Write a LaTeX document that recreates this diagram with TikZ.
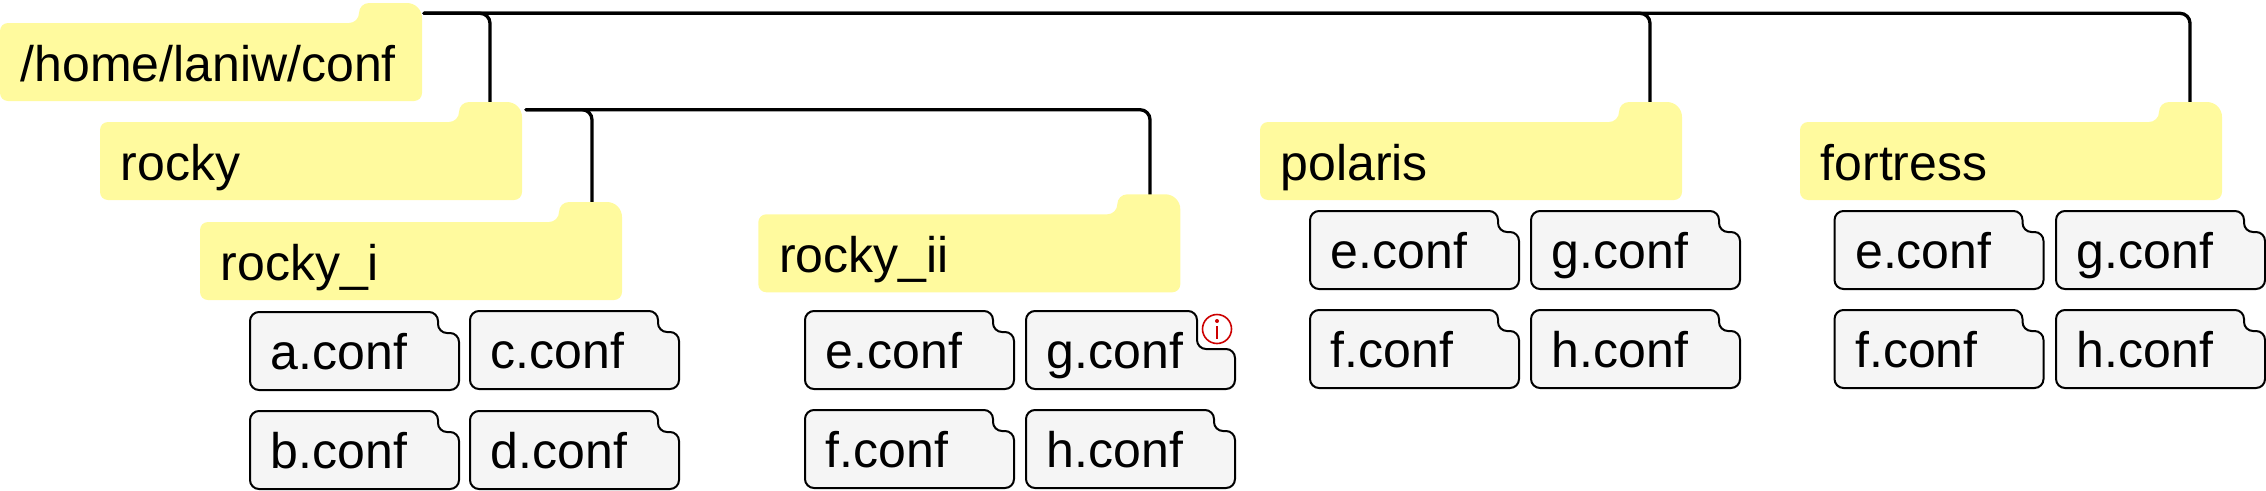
\documentclass[tikz,border=0pt]{standalone}
\usepackage{fontspec}
\setmainfont{Liberation Sans}
\usepackage{xcolor}
\usetikzlibrary{calc,positioning}
\definecolor{folderyellow}{HTML}{FFFA9E}
\definecolor{filegray}{HTML}{F5F5F5}
\definecolor{infored}{HTML}{CC0000}
\tikzset{
	label text/.style={inner sep=0pt, anchor=base west, font=\fontsize{50}{60}\selectfont},
	folder fill/.style={fill=folderyellow},
	file fill/.style={fill=filegray, draw=black, line width=2pt, rounded corners=9},
	link/.style={line width=3.3pt, line cap=round, rounded corners=10},
}
% name, x, y of tab top, label
\newcommand{\folderbox}[4]{
	\begin{scope}[shift={(#2,#3)}]
		\path [folder fill] (0,60) [rounded corners=8] -- (0,20) [rounded corners=10] -- (359,20) -- (359,0) [rounded corners=15] -- (422,0) [rounded corners=8] -- (422,98) -- (0,98) -- cycle;
		\node [label text] (#1) at (20.5,78) {#4};
	\end{scope}
}
% name, x, y, label, notch size
\newcommand{\filebox}[5][21]{
	\begin{scope}[shift={(#3,#4)}]
		\path [file fill] (0,0) -- ({209-#1},0) -- ({209-#1},#1) -- (209,#1) -- (209,78) -- (0,78) -- cycle;
		\node [label text] (#2) at (20.5,57) {#5};
	\end{scope}
}
\begin{document}
\begin{tikzpicture}[x=1pt,y=-1pt]
	\useasboundingbox (0,0) rectangle (2266,490);
	% links
	\coordinate (root end) at (424,13.3);
	\coordinate (rocky end) at (526,109.7);
	\coordinate (rocky top) at (490,104);
	\coordinate (polaris top) at (1650,104);
	\coordinate (fortress top) at (2190,104);
	\coordinate (rockyi top) at (592,204);
	\coordinate (rockyii top) at (1150,196);
	\draw [link] (root end) -| (rocky top);
	\draw [link] (root end) -| (polaris top);
	\draw [link] (root end) -| (fortress top);
	\draw [link] (rocky end) -| (rockyi top);
	\draw [link] (rocky end) -| (rockyii top);
	% folders
	\folderbox{root}{0}{3}{/home/laniw/conf}
	\folderbox{rocky}{100}{102}{rocky}
	\folderbox{rockyi}{200}{202}{rocky\_i}
	\folderbox{rockyii}{758.3}{194.3}{rocky\_ii}
	\folderbox{polaris}{1260}{102}{polaris}
	\folderbox{fortress}{1800}{102}{fortress}
	% files under rocky_i
	\filebox{filea}{250}{312}{a.conf}
	\filebox{filec}{470}{311}{c.conf}
	\filebox{fileb}{250}{411}{b.conf}
	\filebox{filed}{470}{411}{d.conf}
	% files under rocky_ii
	\filebox{iie}{805}{311}{e.conf}
	\filebox[38]{iig}{1026}{311}{g.conf}
	\filebox{iif}{805}{410}{f.conf}
	\filebox{iih}{1026}{410}{h.conf}
	% files under polaris
	\filebox{pe}{1310}{211}{e.conf}
	\filebox{pg}{1531}{211}{g.conf}
	\filebox{pf}{1310}{310}{f.conf}
	\filebox{ph}{1531}{310}{h.conf}
	% files under fortress
	\filebox{fe}{1834.5}{211}{e.conf}
	\filebox{fg}{2056}{211}{g.conf}
	\filebox{ff}{1834.5}{310}{f.conf}
	\filebox{fh}{2056}{310}{h.conf}
	% info mark
	\node [circle, draw=infored, line width=1.6pt, minimum size=29, inner sep=0pt] (info) at (1217,329) {};
	\draw [infored, line width=1.8pt] (1217,326) -- (1217,339);
	\fill [infored] (1217,321) circle (2);
\end{tikzpicture}
\end{document}
